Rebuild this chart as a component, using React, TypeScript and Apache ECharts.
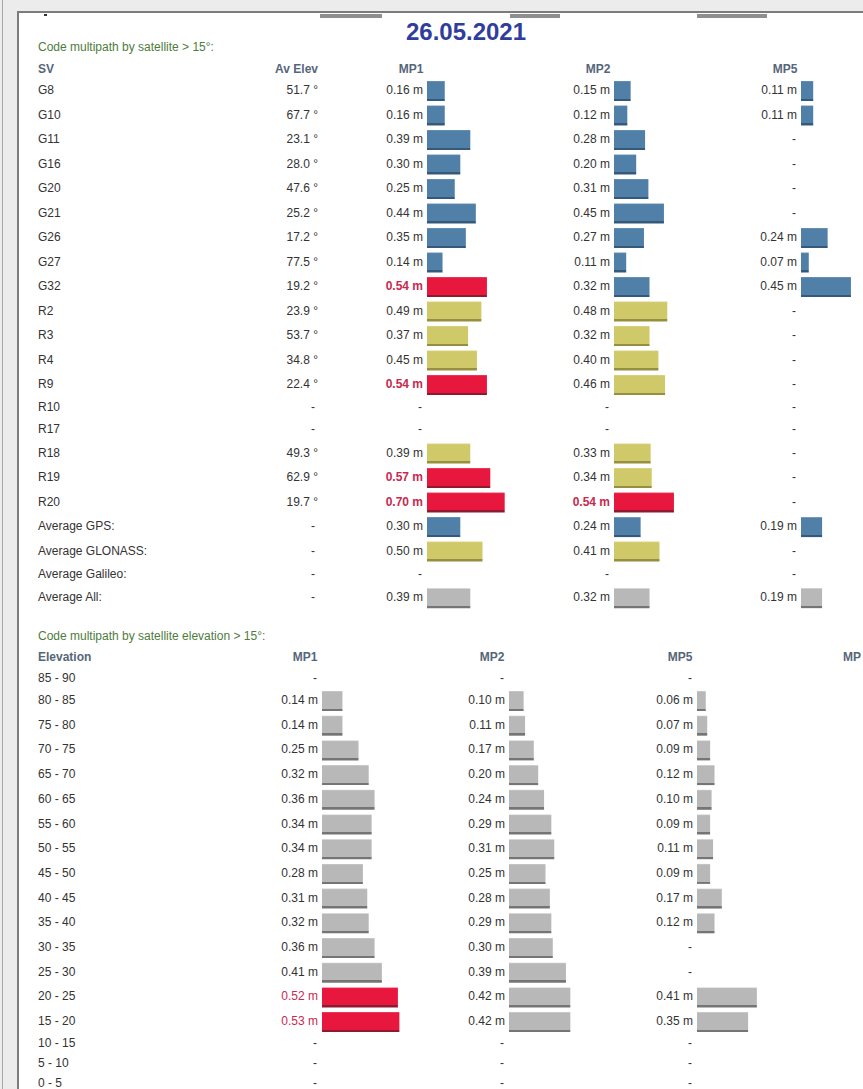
import React, { useEffect, useRef } from 'react';
import * as echarts from 'echarts';

// ---------- DATA ----------
const reportDate = '26.05.2021';
const sectionTitles = ['Code multipath by satellite > 15°:', 'Code multipath by satellite elevation > 15°:'];

const svHeaders = ['SV', 'Av Elev', 'MP1', 'MP2', 'MP5'];
const svNames = ['G8', 'G10', 'G11', 'G16', 'G20', 'G21', 'G26', 'G27', 'G32', 'R2', 'R3', 'R4', 'R9', 'R10', 'R17', 'R18', 'R19', 'R20', 'Average GPS:', 'Average GLONASS:', 'Average Galileo:', 'Average All:'];
const svSystem = ['G', 'G', 'G', 'G', 'G', 'G', 'G', 'G', 'G', 'R', 'R', 'R', 'R', 'R', 'R', 'R', 'R', 'R', 'G', 'R', 'E', 'A'];
const avElev: (number | null)[] = [51.7, 67.7, 23.1, 28.0, 47.6, 25.2, 17.2, 77.5, 19.2, 23.9, 53.7, 34.8, 22.4, null, null, 49.3, 62.9, 19.7, null, null, null, null];
const svMp1: (number | null)[] = [0.16, 0.16, 0.39, 0.30, 0.25, 0.44, 0.35, 0.14, 0.54, 0.49, 0.37, 0.45, 0.54, null, null, 0.39, 0.57, 0.70, 0.30, 0.50, null, 0.39];
const svMp2: (number | null)[] = [0.15, 0.12, 0.28, 0.20, 0.31, 0.45, 0.27, 0.11, 0.32, 0.48, 0.32, 0.40, 0.46, null, null, 0.33, 0.34, 0.54, 0.24, 0.41, null, 0.32];
const svMp5: (number | null)[] = [0.11, 0.11, null, null, null, null, 0.24, 0.07, 0.45, null, null, null, null, null, null, null, null, null, 0.19, null, null, 0.19];

const elevHeaders = ['Elevation', 'MP1', 'MP2', 'MP5', 'MP'];
const elevBins = ['85 - 90', '80 - 85', '75 - 80', '70 - 75', '65 - 70', '60 - 65', '55 - 60', '50 - 55', '45 - 50', '40 - 45', '35 - 40', '30 - 35', '25 - 30', '20 - 25', '15 - 20', '10 - 15', '5 - 10', '0 - 5'];
const elMp1: (number | null)[] = [null, 0.14, 0.14, 0.25, 0.32, 0.36, 0.34, 0.34, 0.28, 0.31, 0.32, 0.36, 0.41, 0.52, 0.53, null, null, null];
const elMp2: (number | null)[] = [null, 0.10, 0.11, 0.17, 0.20, 0.24, 0.29, 0.31, 0.25, 0.28, 0.29, 0.30, 0.39, 0.42, 0.42, null, null, null];
const elMp5: (number | null)[] = [null, 0.06, 0.07, 0.09, 0.12, 0.10, 0.09, 0.11, 0.09, 0.17, 0.12, null, null, 0.41, 0.35, null, null, null];

const redThreshold = 0.5;

// ---------- STYLE / LAYOUT ----------
const FONT = '"Liberation Sans", Arial, Helvetica, sans-serif';
const TEXT = '#333333';
const RED_TEXT = '#c8294f';
const HEAD = '#56667a';
const GREEN = '#4e7c3c';
const BAR_H = 20;
const CH_W = 863;
const CH_H = 1089;

const PAL: Record<string, [string, string, string]> = {
  G: ['#7097bb', '#5080a8', '#34597a'],
  R: ['#dcd68a', '#cfc96a', '#958f3e'],
  A: ['#cfcfcf', '#b8b8b8', '#757575'],
  RED: ['#ee4a68', '#e8173e', '#8e1a30'],
};

function pal(v: number, sys: string) {
  if (v > redThreshold) return PAL.RED;
  if (sys === 'G') return PAL.G;
  if (sys === 'R') return PAL.R;
  return PAL.A;
}

function grad(p: [string, string, string]) {
  return new echarts.graphic.LinearGradient(0, 0, 0, 1, [
    { offset: 0, color: p[0] },
    { offset: 0.06, color: p[1] },
    { offset: 0.88, color: p[1] },
    { offset: 0.88, color: p[2] },
    { offset: 1, color: p[2] },
  ]);
}

function rowLayout(cols: (number | null)[][], emptyRatio: number) {
  const n = cols[0].length;
  const centers: number[] = [];
  let cum = 0;
  for (let i = 0; i < n; i++) {
    const has = cols.some((c) => c[i] != null);
    const h = has ? 1 : emptyRatio;
    centers.push(cum + h / 2);
    cum += h;
  }
  return { centers, total: cum };
}

const txt = (extra: any) => ({ fontFamily: FONT, fontSize: 12, fill: TEXT, verticalAlign: 'middle', ...extra });

function barColumn(g: number, values: (number | null)[], systems: string[], centers: number[], bold: boolean) {
  return {
    type: 'custom',
    xAxisIndex: g,
    yAxisIndex: g,
    clip: false,
    encode: { x: 0, y: 1 },
    data: values.map((v, i) => [v ?? 0, centers[i], i]),
    renderItem: (params: any, api: any) => {
      const i = api.value(2);
      const v = values[i];
      const [x0, y] = api.coord([0, api.value(1)]);
      if (v == null) {
        return { type: 'text', style: txt({ text: '-', x: x0 - 5, y, align: 'right' }) };
      }
      const [x1] = api.coord([v, api.value(1)]);
      const p = pal(v, systems[i]);
      const hot = v > redThreshold;
      return {
        type: 'group',
        children: [
          { type: 'rect', shape: { x: x0, y: y + 1 - BAR_H / 2, width: x1 - x0, height: BAR_H }, style: { fill: grad(p) } },
          {
            type: 'text',
            style: txt({
              text: v.toFixed(2) + ' m', x: x0 - 4, y, align: 'right',
              fill: hot ? RED_TEXT : TEXT, fontWeight: hot && bold ? 'bold' : 'normal',
            }),
          },
        ],
      };
    },
  };
}

export default function App() {
  const ref = useRef<HTMLDivElement>(null);
  useEffect(() => {
    if (!ref.current) return;
    const chart = echarts.init(ref.current, undefined, { renderer: 'svg' });

    const top = rowLayout([svMp1, svMp2, svMp5], 0.9);
    const bot = rowLayout([elMp1, elMp2, elMp5], 0.81);
    const TOP_UNIT = 24.5, BOT_UNIT = 24.7;
    const TOP_SCALE = 111, BOT_SCALE = 146; // px per metre
    const topGridTop = 90 - top.centers[0] * TOP_UNIT;
    const botGridTop = 700 - bot.centers[1] * BOT_UNIT;
    const topGridH = top.total * TOP_UNIT;
    const botGridH = CH_H - 1 - botGridTop; // keep grid inside the canvas, extend axis instead

    const topLefts = [427, 614, 801];
    const botLefts = [322, 509, 697];
    const grids: any[] = [];
    const xAxes: any[] = [];
    const yAxes: any[] = [];
    topLefts.forEach((l) => {
      const w = Math.min(0.8 * TOP_SCALE, CH_W - 1 - l);
      grids.push({ left: l, top: topGridTop, width: w, height: topGridH });
      xAxes.push({ type: 'value', min: 0, max: w / TOP_SCALE, show: false, gridIndex: grids.length - 1 });
      yAxes.push({ type: 'value', min: 0, max: top.total, inverse: true, show: false, gridIndex: grids.length - 1 });
    });
    botLefts.forEach((l) => {
      const w = Math.min(0.6 * BOT_SCALE, CH_W - 1 - l);
      grids.push({ left: l, top: botGridTop, width: w, height: botGridH });
      xAxes.push({ type: 'value', min: 0, max: w / BOT_SCALE, show: false, gridIndex: grids.length - 1 });
      yAxes.push({ type: 'value', min: 0, max: botGridH / BOT_UNIT, inverse: true, show: false, gridIndex: grids.length - 1 });
    });

    const svText = {
      type: 'custom', xAxisIndex: 0, yAxisIndex: 0, clip: false, encode: { x: 0, y: 1 },
      data: svNames.map((_, i) => [0, top.centers[i], i]),
      renderItem: (params: any, api: any) => {
        const i = api.value(2);
        const [x0, y] = api.coord([0, api.value(1)]);
        const e = avElev[i];
        return {
          type: 'group',
          children: [
            { type: 'text', style: txt({ text: svNames[i], x: x0 - 389, y, align: 'left' }) },
            { type: 'text', style: txt({ text: e == null ? '-' : e.toFixed(1) + ' °', x: e == null ? x0 - 112 : x0 - 109, y, align: 'right' }) },
          ],
        };
      },
    };
    const elText = {
      type: 'custom', xAxisIndex: 3, yAxisIndex: 3, clip: false, encode: { x: 0, y: 1 },
      data: elevBins.map((_, i) => [0, bot.centers[i], i]),
      renderItem: (params: any, api: any) => {
        const i = api.value(2);
        const [x0, y] = api.coord([0, api.value(1)]);
        return { type: 'text', style: txt({ text: elevBins[i], x: x0 - 284, y, align: 'left' }) };
      },
    };
    const allA = elevBins.map(() => 'A');

    const head = (text: string, x: number, y: number, align: string) => ({
      type: 'text', x, y, style: { text, fontFamily: FONT, fontSize: 12, fontWeight: 'bold', fill: HEAD, align, verticalAlign: 'middle' },
    });

    chart.setOption({
      animation: false,
      backgroundColor: '#ececec',
      grid: grids,
      xAxis: xAxes,
      yAxis: yAxes,
      graphic: [
        { type: 'rect', z: -10, shape: { x: 2, y: 0, width: 1, height: 1089 }, style: { fill: '#a8a8a8' } },
        { type: 'rect', z: -10, shape: { x: 17, y: 11, width: 846, height: 1078 }, style: { fill: '#7c7c7c' } },
        { type: 'rect', z: -9, shape: { x: 19, y: 13, width: 844, height: 1076 }, style: { fill: '#ffffff' } },
        { type: 'rect', z: -8, shape: { x: 320, y: 14, width: 62, height: 4 }, style: { fill: '#8f8f8f' } },
        { type: 'rect', z: -8, shape: { x: 510, y: 14, width: 50, height: 4 }, style: { fill: '#8f8f8f' } },
        { type: 'rect', z: -8, shape: { x: 697, y: 14, width: 70, height: 4 }, style: { fill: '#8f8f8f' } },
        { type: 'rect', z: -8, shape: { x: 44, y: 14, width: 3, height: 2 }, style: { fill: '#333333' } },
        {
          type: 'text', x: 466, y: 31,
          style: { text: reportDate, fontFamily: FONT, fontSize: 24, fontWeight: 'bold', fill: '#2f3d9c', align: 'center', verticalAlign: 'middle' },
        },
        { type: 'text', x: 38, y: 47, style: { text: sectionTitles[0], fontFamily: FONT, fontSize: 12, fill: GREEN, align: 'left', verticalAlign: 'middle' } },
        head(svHeaders[0], 38, 69, 'left'),
        head(svHeaders[1], 318, 69, 'right'),
        head(svHeaders[2], 411, 69, 'center'),
        head(svHeaders[3], 598, 69, 'center'),
        head(svHeaders[4], 785, 69, 'center'),
        { type: 'text', x: 38, y: 636, style: { text: sectionTitles[1], fontFamily: FONT, fontSize: 12, fill: GREEN, align: 'left', verticalAlign: 'middle' } },
        head(elevHeaders[0], 38, 657, 'left'),
        head(elevHeaders[1], 305, 657, 'center'),
        head(elevHeaders[2], 492, 657, 'center'),
        head(elevHeaders[3], 680, 657, 'center'),
        head(elevHeaders[4], 861, 657, 'right'),
      ],
      series: [
        svText,
        barColumn(0, svMp1, svSystem, top.centers, true),
        barColumn(1, svMp2, svSystem, top.centers, true),
        barColumn(2, svMp5, svSystem, top.centers, true),
        elText,
        barColumn(3, elMp1, allA, bot.centers, false),
        barColumn(4, elMp2, allA, bot.centers, false),
        barColumn(5, elMp5, allA, bot.centers, false),
      ],
    });
    return () => chart.dispose();
  }, []);
  return <div ref={ref} style={{ position: 'fixed', left: 0, top: 0, width: CH_W, height: CH_H }} />;
}
